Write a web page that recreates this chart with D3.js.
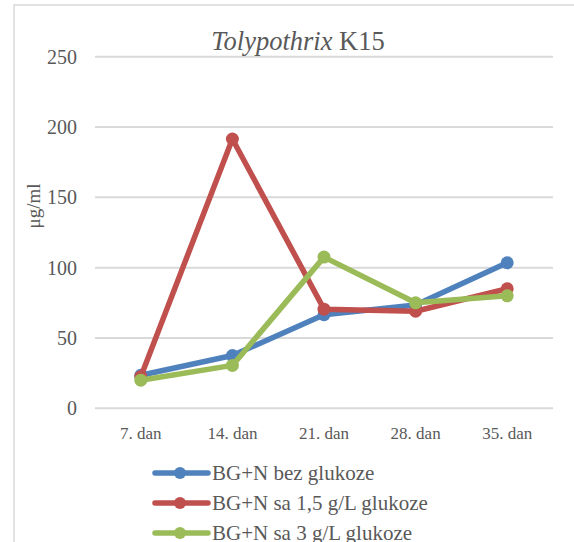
<!DOCTYPE html>
<html><head><meta charset="utf-8">
<script src="https://cdn.jsdelivr.net/npm/d3@7"></script>
<style>html,body{margin:0;padding:0;background:#fff;overflow:hidden}</style>
</head><body>
<svg id="chart" width="574" height="542"></svg>
<script>
const categories = ["7. dan", "14. dan", "21. dan", "28. dan", "35. dan"];
const seriesNames = ["BG+N bez glukoze", "BG+N sa 1,5 g/L glukoze", "BG+N sa 3 g/L glukoze"];
const bezGlukoze = [23.5, 37.5, 66.5, 73.5, 103.5];
const sa15Glukoze = [22.5, 191.5, 70.5, 69, 85];
const sa3Glukoze = [20, 30.5, 107.5, 75, 80];
const yTicks = [0, 50, 100, 150, 200, 250];
const colors = ["#4f81bd", "#c0504d", "#9bbb59"];

const series = [bezGlukoze, sa15Glukoze, sa3Glukoze].map((v, i) => ({name: seriesNames[i], values: v, color: colors[i]}));

const svg = d3.select("#chart");
const font = "'Liberation Serif','Times New Roman',serif";
const textColor = "#595959";

// outer chart border
svg.append("rect").attr("x", 14).attr("y", 5).attr("width", 600).attr("height", 600)
  .attr("fill", "none").attr("stroke", "#d9d9d9").attr("stroke-width", 1.5);

const x = d3.scaleBand().domain(categories).range([95, 553]);
const y = d3.scaleLinear().domain([0, 250]).range([408.3, 56.7]);

// gridlines
svg.append("g").selectAll("line").data(yTicks).join("line")
  .attr("x1", 95).attr("x2", 553)
  .attr("y1", d => y(d)).attr("y2", d => y(d))
  .attr("stroke", "#d9d9d9").attr("stroke-width", 2);

// y axis labels
const yAxis = d3.axisLeft(y).tickValues(yTicks).tickSize(0).tickPadding(0);
const gy = svg.append("g").attr("transform", "translate(77,0)").call(yAxis);
gy.select(".domain").remove();
gy.selectAll("text").style("font-family", font).style("font-size", "20px").attr("fill", textColor).attr("dy", "0.32em");

// x axis labels
const xAxis = d3.axisBottom(x).tickSize(0).tickPadding(0);
const gx = svg.append("g").attr("transform", "translate(0,427)").call(xAxis);
gx.select(".domain").remove();
gx.selectAll("text").style("font-family", font).style("font-size", "17px").attr("fill", textColor).attr("dy", "0.71em");

// y-axis title
svg.append("text").attr("transform", "translate(40,206) rotate(-90)")
  .attr("text-anchor", "middle").style("font-family", font).style("font-size", "19px").attr("fill", textColor)
  .text("μg/ml");

// title
const title = svg.append("text").attr("x", 298).attr("y", 50).attr("text-anchor", "middle")
  .style("font-family", font).style("font-size", "26.5px").attr("fill", textColor);
title.append("tspan").attr("font-style", "italic").text("Tolypothrix");
title.append("tspan").text(" K15");

const cx = d => x(d) + x.bandwidth() / 2;
const line = d3.line().x((d, i) => cx(categories[i])).y(d => y(d));

const gs = svg.append("g").selectAll("g").data(series).join("g");
gs.append("path").attr("d", d => line(d.values)).attr("fill", "none")
  .attr("stroke", d => d.color).attr("stroke-width", 5.5).attr("stroke-linejoin", "round").attr("stroke-linecap", "round");
gs.selectAll("circle").data(d => d.values.map((v, i) => ({v, i, color: d.color}))).join("circle")
  .attr("cx", d => cx(categories[d.i])).attr("cy", d => y(d.v)).attr("r", 6.5).attr("fill", d => d.color);

// legend
const lg = svg.append("g").selectAll("g").data(series).join("g")
  .attr("transform", (d, i) => `translate(0,${473 + i * 30})`);
lg.append("line").attr("x1", 155).attr("x2", 208).attr("y1", 0).attr("y2", 0)
  .attr("stroke", d => d.color).attr("stroke-width", 5.5).attr("stroke-linecap", "round");
lg.append("circle").attr("cx", 180).attr("cy", 0).attr("r", 6).attr("fill", d => d.color);
lg.append("text").attr("x", 212).attr("y", 0).attr("dy", "0.35em")
  .style("font-family", font).style("font-size", "21px").attr("fill", textColor).text(d => d.name);
</script>
</body></html>
